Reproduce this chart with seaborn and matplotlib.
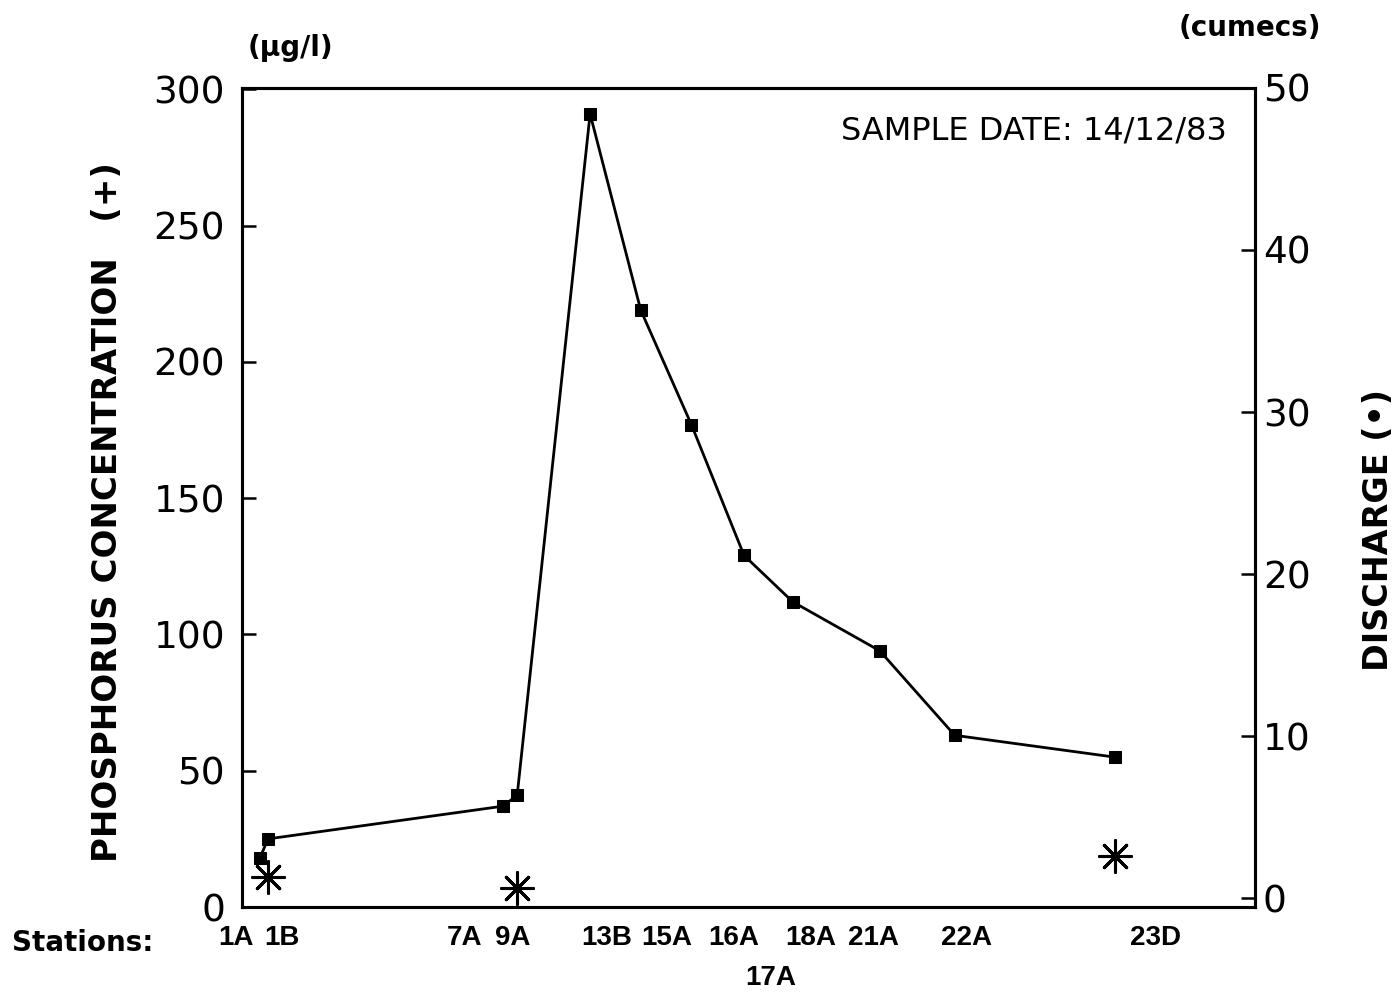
import matplotlib
matplotlib.use("Agg")
import matplotlib.pyplot as plt
import matplotlib.transforms as mtransforms
import seaborn as sns
import pandas as pd

# Sampling stations along the river, distance downstream (km)
stations = ["1A", "1B", "7A", "9A", "13B", "15A", "16A", "17A", "18A", "21A", "22A", "23D"]
distance = [0.9, 1.3, 12.9, 13.6, 17.2, 19.7, 22.2, 24.8, 27.2, 31.5, 35.2, 43.1]
phosphorus = [18, 25, 37, 41, 291, 219, 177, 129, 112, 94, 63, 55]  # ug/l

# Discharge measured at three stations (cumecs)
discharge_stations = ["1B", "9A", "23D"]
discharge_distance = [1.3, 13.6, 43.1]
discharge = [1.3, 0.6, 2.6]

p_ticks = [0, 50, 100, 150, 200, 250, 300]
q_ticks = [0, 10, 20, 30, 40, 50]

# Where each station name is written under the axis (x, row)
label_x = [-0.3, 2.0, 11.0, 13.4, 18.0, 21.0, 24.3, 26.1, 28.1, 31.2, 35.8, 45.1]
label_row = [0, 0, 0, 0, 0, 0, 0, 1, 0, 0, 0, 0]

sns.set_style("ticks")
plt.rcParams["font.family"] = ["DejaVu Sans"]
plt.rcParams.update({"text.color": "black", "axes.labelcolor": "black",
                     "xtick.color": "black", "ytick.color": "black"})
NARROW = ["Liberation Sans", "DejaVu Sans"]

conc = pd.DataFrame({"station": stations, "distance": distance, "P": phosphorus})
flow = pd.DataFrame({"station": discharge_stations, "distance": discharge_distance, "Q": discharge})

fig = plt.figure(figsize=(13.97, 9.94), dpi=100)
ax = fig.add_axes([0.173, 0.0875, 0.725, 0.824])

sns.lineplot(data=conc, x="distance", y="P", ax=ax, color="black", linewidth=2.0,
             marker="s", markersize=8, markeredgecolor="black", markerfacecolor="black")

ax2 = ax.twinx()
sns.scatterplot(data=flow, x="distance", y="Q", ax=ax2, marker=(8, 2, 0), s=520,
                color="black", linewidth=2.2)

ax.set_xlim(0, 50)
ax.set_ylim(0, 300.5)
ax2.set_ylim(-0.55, 49.75)

ax.set_yticks(p_ticks)
ax.set_yticklabels([str(v) for v in p_ticks])
ax2.set_yticks(q_ticks)
ax2.set_yticklabels([str(v) for v in q_ticks])
ax.set_xticks([])

for a in (ax, ax2):
    for s in a.spines.values():
        s.set_linewidth(2.2)
        s.set_color("black")
    a.set_xlabel("")
    a.set_ylabel("")

ax.tick_params(axis="y", direction="in", length=10, width=1.8, labelsize=27, pad=12)
ax2.tick_params(axis="y", direction="in", length=10, width=1.8, labelsize=27, pad=6)

# Station names along the bottom
trans = mtransforms.blended_transform_factory(ax.transData, ax.transAxes)
for name, lx, row in zip(stations, label_x, label_row):
    ax.text(lx, -0.038 - 0.049 * row, name, transform=trans, ha="center", va="center",
            fontsize=20, fontweight="bold", family=NARROW, clip_on=False)

fig.text(0.0086, 0.0513, "Stations:", ha="left", va="center", fontsize=20, fontweight="bold")

# Axis titles and units
fig.text(0.0766, 0.485, "PHOSPHORUS CONCENTRATION   (+)", rotation=90, ha="center",
         va="center", fontsize=24.5, fontweight="bold")
fig.text(0.9864, 0.467, "DISCHARGE (\u2022)", rotation=90, ha="center", va="center",
         fontsize=24, fontweight="bold")
fig.text(0.2076, 0.952, "(\u03bcg/l)", ha="center", va="center", fontsize=20, fontweight="bold")
fig.text(0.8948, 0.972, "(cumecs)", ha="center", va="center", fontsize=20, fontweight="bold")

ax.text(0.973, 0.9475, "SAMPLE DATE: 14/12/83", transform=ax.transAxes, ha="right",
        va="center", fontsize=23)

fig.savefig("out.png", dpi=100, facecolor="white")
